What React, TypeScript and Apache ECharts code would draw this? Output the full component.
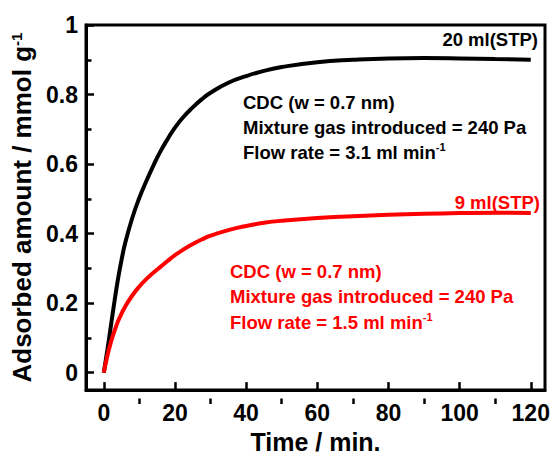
import React, { useEffect, useRef } from "react";
import * as echarts from "echarts";

const FONT = "'Liberation Sans', Arial, Helvetica, sans-serif";

const times = [0, 1, 2, 3, 4, 5, 6, 8, 10, 12, 14, 16, 18, 20, 22.5, 25, 27.5, 30, 35, 40, 45, 50, 60, 70, 80, 90, 100, 110, 120];
const black20ml = [0, 0.065, 0.135, 0.205, 0.27, 0.325, 0.372, 0.445, 0.503, 0.552, 0.597, 0.638, 0.673, 0.705, 0.737, 0.763, 0.786, 0.805, 0.834, 0.853, 0.868, 0.879, 0.893, 0.9, 0.904, 0.905, 0.904, 0.902, 0.9];
const red9ml = [0, 0.048, 0.088, 0.12, 0.148, 0.17, 0.19, 0.222, 0.248, 0.27, 0.288, 0.305, 0.322, 0.338, 0.355, 0.37, 0.383, 0.394, 0.41, 0.422, 0.431, 0.437, 0.445, 0.45, 0.454, 0.457, 0.459, 0.46, 0.459];

const xMajorTicks = [0, 20, 40, 60, 80, 100, 120];
const xMinorTicks = [10, 30, 50, 70, 90, 110];
const yMajorTicks = [0, 0.2, 0.4, 0.6, 0.8, 1];
const yMinorTicks = [0.1, 0.3, 0.5, 0.7, 0.9];

const blackNotes = ["CDC (w = 0.7 nm)", "Mixture gas introduced = 240 Pa", "Flow rate = 3.1 ml min{sup|-1}"];
const redNotes = ["CDC (w = 0.7 nm)", "Mixture gas introduced = 240 Pa", "Flow rate = 1.5 ml min{sup|-1}"];

const W = 553;
const H = 459;
const G = { left: 86, top: 25, right: 8, bottom: 55 };

export default function App() {
  const ref = useRef<HTMLDivElement>(null);
  useEffect(() => {
    if (!ref.current) return;
    const chart = echarts.init(ref.current, undefined, { renderer: "svg" });
    const gw = W - G.left - G.right;
    const gh = H - G.top - G.bottom;
    const zip = (a: number[]) => times.map((t, i) => [t, a[i]]);
    const noteStyle = (text: string, x: number, y: number, color: string, align = "left") => ({
      type: "text",
      x,
      y,
      silent: true,
      style: {
        text,
        fill: color,
        fontFamily: FONT,
        fontWeight: "bold",
        fontSize: 18.5,
        lineHeight: 22,
        align,
        verticalAlign: "middle",
        rich: {
          sup: { fontSize: 11, fontWeight: "bold", fontFamily: FONT, fill: color, color, verticalAlign: "top", lineHeight: 12 },
        },
      },
    });
    const graphics: any[] = [];
    blackNotes.forEach((t, i) => graphics.push(noteStyle(t, 243, 102 + i * 25, "#000")));
    redNotes.forEach((t, i) => graphics.push(noteStyle(t, 230, 271 + i * 25.5, "#ff0000")));
    graphics.push(noteStyle("20 ml(STP)", 538, 39, "#000", "right"));
    graphics.push(noteStyle("9 ml(STP)", 540, 202, "#ff0000", "right"));

    const labelBase = { color: "#000", fontFamily: FONT, fontWeight: "bold" as const, fontSize: 23 };

    chart.setOption({
      animation: false,
      backgroundColor: "#fff",
      grid: { left: G.left, top: G.top, right: G.right, bottom: G.bottom, show: true, borderColor: "#000", borderWidth: 3, backgroundColor: "transparent" },
      xAxis: [
        {
          type: "value",
          min: -5,
          max: 124,
          position: "bottom",
          name: "Time / min.",
          nameLocation: "middle",
          nameGap: 37,
          nameTextStyle: { ...labelBase, fontSize: 25 },
          axisLine: { show: true, onZero: false, lineStyle: { color: "#000", width: 3 } },
          axisTick: { show: true, inside: true, length: 8, lineStyle: { color: "#000", width: 2.5 }, customValues: xMajorTicks },
          axisLabel: { ...labelBase, margin: 11, customValues: xMajorTicks },
          splitLine: { show: false },
        },
        {
          type: "value",
          min: -5,
          max: 124,
          position: "top",
          offset: -gh,
          axisLine: { show: false, onZero: false },
          axisTick: { show: true, inside: false, length: 5.5, lineStyle: { color: "#000", width: 2.5 }, customValues: xMinorTicks },
          axisLabel: { show: false },
          splitLine: { show: false },
        },
      ],
      yAxis: [
        {
          type: "value",
          min: -0.05,
          max: 1,
          position: "left",
          name: "Adsorbed amount / mmol g{sup|-1}",
          nameLocation: "middle",
          nameGap: 48,
          nameTextStyle: {
            ...labelBase,
            fontSize: 26,
            rich: { sup: { fontSize: 15, fontWeight: "bold", fontFamily: FONT, color: "#000", verticalAlign: "top" } },
          },
          axisLine: { show: true, onZero: false, lineStyle: { color: "#000", width: 3 } },
          axisTick: { show: true, inside: true, length: 8, lineStyle: { color: "#000", width: 2.5 }, customValues: yMajorTicks },
          axisLabel: {
            ...labelBase,
            margin: 8,
            customValues: yMajorTicks,
            formatter: (v: number) => (v === 0 ? "0" : v === 1 ? "1" : v.toFixed(1)),
          },
          splitLine: { show: false },
        },
        {
          type: "value",
          min: -0.05,
          max: 1,
          position: "right",
          offset: -gw,
          axisLine: { show: false, onZero: false },
          axisTick: { show: true, inside: false, length: 5.5, lineStyle: { color: "#000", width: 2.5 }, customValues: yMinorTicks },
          axisLabel: { show: false },
          splitLine: { show: false },
        },
      ],
      series: [
        {
          type: "line",
          data: zip(black20ml),
          smooth: 0.5,
          showSymbol: false,
          lineStyle: { color: "#000", width: 4 },
          itemStyle: { color: "#000" },
          z: 3,
        },
        {
          type: "line",
          data: zip(red9ml),
          smooth: 0.5,
          showSymbol: false,
          lineStyle: { color: "#ff0000", width: 4 },
          itemStyle: { color: "#ff0000" },
          z: 4,
        },
      ],
      graphic: graphics,
    });
    return () => chart.dispose();
  }, []);
  return <div ref={ref} style={{ position: "fixed", left: 0, top: 0, width: W, height: H }} />;
}
